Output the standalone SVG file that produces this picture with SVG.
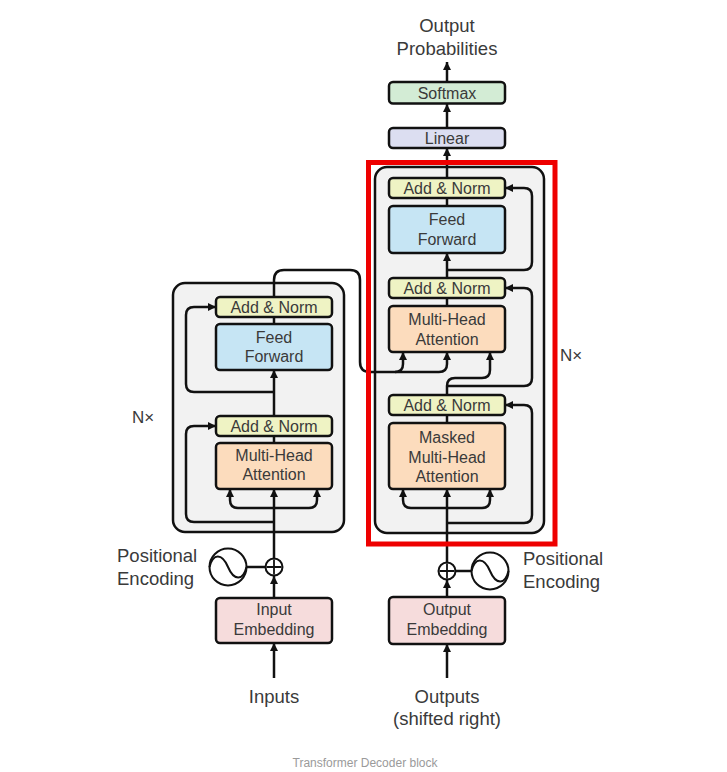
<svg xmlns="http://www.w3.org/2000/svg" width="727" height="772" viewBox="0 0 727 772">
<defs>
<marker id="ah" viewBox="0 0 10 10" refX="10" refY="5" markerWidth="8" markerHeight="9" markerUnits="userSpaceOnUse" orient="auto"><path d="M0,0 L10,5 L0,10 z" fill="#111"/></marker>
<style>
text{font-family:"Liberation Sans",Arial,sans-serif;fill:#3a3a3a;text-anchor:middle}
.t16{font-size:16px}
.t18{font-size:18.5px}
.box{stroke:#111;stroke-width:2.5}
.an{fill:#eff3c4}
.ff{fill:#c6e5f4}
.mha{fill:#fcdcbd}
.emb{fill:#f6dcdc}
.sm{fill:#d3ecd5}
.lin{fill:#dcdef1}
.stack{fill:#f2f2f2;stroke:#111;stroke-width:2.5}
.c{fill:none;stroke:#111;stroke-width:2.5}
.a{marker-end:url(#ah)}
</style>
</defs>
<rect width="727" height="772" fill="#fff"/>

<g id="encoder-stack"><rect class="stack" x="173" y="283" width="171" height="249" rx="12"/></g>
<g id="decoder-stack"><rect class="stack" x="375" y="167" width="169" height="366" rx="12"/></g>

<g id="connectors">
<path class="c a" d="M274,678 V643"/>
<path class="c a" d="M274,598 V576"/>
<path class="c a" d="M274,558.5 V489"/>
<path class="c a" d="M274,508 H238 Q230,508 230,500 V489"/>
<path class="c a" d="M274,508 H309 Q317,508 317,500 V489"/>
<path class="c a" d="M274,522 H194 Q186,522 186,514 V434 Q186,426 194,426 H216"/>
<path class="c" d="M274,443 V436"/>
<path class="c a" d="M274,416 V370"/>
<path class="c a" d="M274,392 H194 Q186,392 186,384 V315 Q186,307 194,307 H216"/>
<path class="c" d="M274,324 V317"/>
<path class="c a" d="M274,297 V280 Q274,270 284,270 H350 Q360,270 360,280 V362 Q360,372 370,372 H395 Q403,372 403,364 V352"/>
<path class="c a" d="M395,372 H439 Q447,372 447,364 V352"/>
<path class="c a" d="M447,678 V644"/>
<path class="c a" d="M447,597 V580"/>
<path class="c a" d="M447,562.5 V489"/>
<path class="c a" d="M447,508 H411 Q403,508 403,500 V489"/>
<path class="c a" d="M447,508 H482 Q490,508 490,500 V489"/>
<path class="c a" d="M447,523 H524 Q532,523 532,515 V413 Q532,405 524,405 H505"/>
<path class="c" d="M447,423 V415"/>
<path class="c a" d="M447,395 V386 Q447,378 455,378 H482 Q490,378 490,370 V352"/>
<path class="c a" d="M447,386 H524 Q532,386 532,378 V296 Q532,288 524,288 H505"/>
<path class="c" d="M447,306 V298"/>
<path class="c a" d="M447,278 V253"/>
<path class="c a" d="M447,270 H524 Q532,270 532,262 V196 Q532,188 524,188 H505"/>
<path class="c" d="M447,206 V198"/>
<path class="c a" d="M447,178 V148"/>
<path class="c a" d="M447,128 V104"/>
<path class="c a" d="M447,82 V62"/>
<line class="c" x1="246.5" y1="567" x2="265.5" y2="567"/>
<line class="c" x1="455.5" y1="571" x2="471.5" y2="571"/>
</g>

<g id="enc-addnorm-2"><rect class="box an" x="216" y="297" width="116" height="20" rx="4"/><text class="t16" x="274" y="312.6">Add &amp; Norm</text></g>
<g id="enc-feed-forward"><rect class="box ff" x="216" y="324" width="116" height="46" rx="4"/><text class="t16" x="274" y="343">Feed</text><text class="t16" x="274" y="362">Forward</text></g>
<g id="enc-addnorm-1"><rect class="box an" x="216" y="416" width="116" height="20" rx="4"/><text class="t16" x="274" y="431.6">Add &amp; Norm</text></g>
<g id="enc-mha"><rect class="box mha" x="216" y="443" width="116" height="46" rx="4"/><text class="t16" x="274" y="460.5">Multi-Head</text><text class="t16" x="274" y="480">Attention</text></g>
<g id="input-embedding"><rect class="box emb" x="216" y="598" width="116" height="45" rx="4"/><text class="t16" x="274" y="615">Input</text><text class="t16" x="274" y="635">Embedding</text></g>
<g id="enc-plus"><circle cx="274" cy="567" r="8.5" fill="#fff" stroke="#111" stroke-width="2"/><path d="M274,559.5 V574.5 M266.5,567 H281.5" stroke="#111" stroke-width="1.8"/></g>
<g id="enc-pos-enc"><circle cx="228" cy="567" r="18.5" fill="#fff" stroke="#111" stroke-width="2"/><path d="M209.5,567 C213,553 222,553 228,567 C234,581 243,581 246.5,567" fill="none" stroke="#111" stroke-width="2"/></g>
<g id="enc-pos-label"><text class="t18" x="117" y="562" style="text-anchor:start">Positional</text><text class="t18" x="117" y="585" style="text-anchor:start">Encoding</text></g>
<g id="inputs-label"><text class="t18" x="274" y="703">Inputs</text></g>
<g id="enc-nx"><text x="132" y="423" style="text-anchor:start;font-size:17px">N×</text></g>

<g id="dec-addnorm-3"><rect class="box an" x="389" y="178" width="116" height="20" rx="4"/><text class="t16" x="447" y="193.5">Add &amp; Norm</text></g>
<g id="dec-feed-forward"><rect class="box ff" x="389" y="206" width="116" height="47" rx="4"/><text class="t16" x="447" y="225">Feed</text><text class="t16" x="447" y="245">Forward</text></g>
<g id="dec-addnorm-2"><rect class="box an" x="389" y="278" width="116" height="20" rx="4"/><text class="t16" x="447" y="293.5">Add &amp; Norm</text></g>
<g id="dec-mha"><rect class="box mha" x="389" y="306" width="116" height="46" rx="4"/><text class="t16" x="447" y="324.5">Multi-Head</text><text class="t16" x="447" y="344.5">Attention</text></g>
<g id="dec-addnorm-1"><rect class="box an" x="389" y="395" width="116" height="20" rx="4"/><text class="t16" x="447" y="410.5">Add &amp; Norm</text></g>
<g id="dec-masked-mha"><rect class="box mha" x="389" y="423" width="116" height="66" rx="4"/><text class="t16" x="447" y="443">Masked</text><text class="t16" x="447" y="463">Multi-Head</text><text class="t16" x="447" y="482">Attention</text></g>
<g id="output-embedding"><rect class="box emb" x="389" y="597" width="116" height="47" rx="4"/><text class="t16" x="447" y="615">Output</text><text class="t16" x="447" y="635">Embedding</text></g>
<g id="dec-plus"><circle cx="447" cy="571" r="8.5" fill="#fff" stroke="#111" stroke-width="2"/><path d="M447,563.5 V578.5 M439.5,571 H454.5" stroke="#111" stroke-width="1.8"/></g>
<g id="dec-pos-enc"><circle cx="490" cy="571" r="18.5" fill="#fff" stroke="#111" stroke-width="2"/><path d="M471.5,571 C475,557 484,557 490,571 C496,585 505,585 508.5,571" fill="none" stroke="#111" stroke-width="2"/></g>
<g id="dec-pos-label"><text class="t18" x="523" y="565" style="text-anchor:start">Positional</text><text class="t18" x="523" y="588" style="text-anchor:start">Encoding</text></g>
<g id="outputs-label"><text class="t18" x="447" y="703">Outputs</text><text class="t18" x="447" y="725">(shifted right)</text></g>
<g id="dec-nx"><text x="560" y="361" style="text-anchor:start;font-size:17px">N×</text></g>

<g id="linear"><rect class="box lin" x="389" y="128" width="116" height="20" rx="4"/><text class="t16" x="447" y="143.6">Linear</text></g>
<g id="softmax"><rect class="box sm" x="389" y="82" width="116" height="21.5" rx="4"/><text class="t16" x="447" y="98.5">Softmax</text></g>
<g id="output-probabilities"><text class="t18" x="447" y="32">Output</text><text class="t18" x="447" y="55">Probabilities</text></g>

<g id="decoder-highlight"><rect x="368.5" y="162.5" width="186.5" height="381.5" fill="none" stroke="#ee0000" stroke-width="5"/></g>

<g id="caption"><text x="365" y="767" style="font-size:12px;fill:#9a9a9a">Transformer Decoder block</text></g>
</svg>
